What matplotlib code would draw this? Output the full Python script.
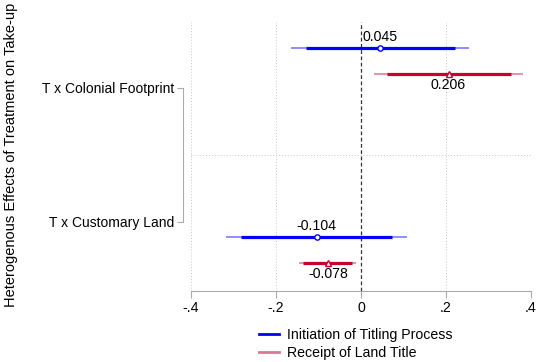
import matplotlib
matplotlib.use("Agg")
import matplotlib.pyplot as plt
from matplotlib.lines import Line2D

plt.rcParams['font.family'] = ['Liberation Sans', 'DejaVu Sans']

categories = ["T x Colonial Footprint", "T x Customary Land"]
series = ["Initiation of Titling Process", "Receipt of Land Title"]

# point estimates
blue_est = [0.045, -0.104]
red_est = [0.206, -0.078]
# 95% CI (thin) and 90% CI (thick)
blue_lo95 = [-0.165, -0.318]
blue_hi95 = [0.255, 0.109]
blue_lo90 = [-0.129, -0.282]
blue_hi90 = [0.221, 0.074]
red_lo95 = [0.031, -0.145]
red_hi95 = [0.380, -0.012]
red_lo90 = [0.060, -0.136]
red_hi90 = [0.353, -0.022]

# layout (vertical positions in axis units)
cat_pos = [88, 222]
blue_pos = [48, 237]
red_pos = [74, 263]
sep_pos = 155

FS = 10.2

fig = plt.figure(figsize=(5.36, 3.62), dpi=100)
ax = fig.add_axes([191/536, 1-291/362, (531-191)/536, (291-22)/362])
ax.set_xlim(-0.4, 0.4)
ax.set_ylim(291, 22)

grid_c = '#c8c8c8'
for xv in [-0.4, -0.2, 0.2, 0.4]:
    ax.axvline(xv, color=grid_c, lw=0.7, ls=(0, (1, 2)), zorder=0)
ax.axhline(sep_pos, color=grid_c, lw=0.7, ls=(0, (1, 2)), zorder=0)
ax.axvline(0, color='#333333', lw=0.9, ls=(0, (3, 2)), zorder=1)

blue = '#0000ff'
blue_l = '#7070ff'
red = '#c8002d'
red_l = '#dc7890'

for i in range(len(categories)):
    y = blue_pos[i]
    ax.plot([blue_lo95[i], blue_hi95[i]], [y, y], color=blue_l, lw=1.1, solid_capstyle='butt', zorder=2)
    ax.plot([blue_lo90[i], blue_hi90[i]], [y, y], color=blue, lw=2.3, solid_capstyle='butt', zorder=3)
    ax.plot([blue_est[i]], [y], marker='o', ms=3.8, mfc='white', mec=blue, mew=1.0, zorder=4)
    ax.annotate(f"{blue_est[i]:.3f}", (blue_est[i], y), xytext=(0, 3), textcoords='offset points',
                ha='center', va='bottom', fontsize=FS)
    y = red_pos[i]
    ax.plot([red_lo95[i], red_hi95[i]], [y, y], color=red_l, lw=1.1, solid_capstyle='butt', zorder=2)
    ax.plot([red_lo90[i], red_hi90[i]], [y, y], color=red, lw=2.3, solid_capstyle='butt', zorder=3)
    ax.plot([red_est[i]], [y], marker='^', ms=3.8, mfc='white', mec=red, mew=1.0, zorder=4)
    ax.annotate(f"{red_est[i]:.3f}", (red_est[i], y), xytext=(0, -3), textcoords='offset points',
                ha='center', va='top', fontsize=FS)

ax.set_yticks(cat_pos)
ax.set_yticklabels(categories, fontsize=9.9)
ax.set_xticks([-0.4, -0.2, 0, 0.2, 0.4])
ax.set_xticklabels(["-.4", "-.2", "0", ".2", ".4"], fontsize=FS)

for s in ['top', 'right']:
    ax.spines[s].set_visible(False)
ax.spines['left'].set_bounds(cat_pos[0], cat_pos[1])
ax.spines['left'].set_position(('outward', 6))
ax.spines['left'].set_color('#aaaaaa')
ax.spines['bottom'].set_color('#aaaaaa')
ax.tick_params(axis='y', length=4, color='#aaaaaa', pad=2)
ax.tick_params(axis='x', length=5, color='#aaaaaa', pad=2)

fig.text(11/536, 1-155/362, "Heterogenous Effects of Treatment on Take-up", rotation=90,
         ha='center', va='center', fontsize=10.5)

handles = [Line2D([0], [0], color=blue, lw=2), Line2D([0], [0], color=red_l, lw=2)]
fig.legend(handles, series, loc='upper left', bbox_to_anchor=(259/536, 1-328/362),
           frameon=False, fontsize=FS, handlelength=1.4, handletextpad=0.6, labelspacing=0.3,
           borderpad=0, borderaxespad=0)

fig.savefig("out.png", dpi=100)
